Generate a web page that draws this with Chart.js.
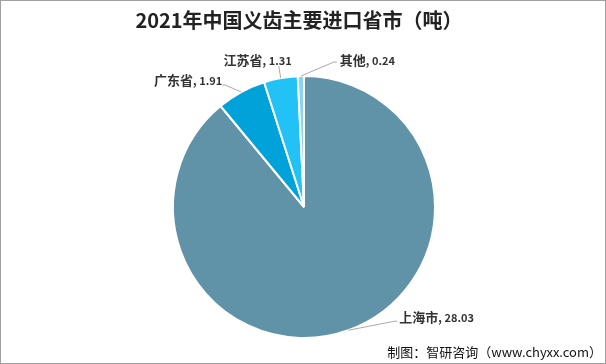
<!DOCTYPE html>
<html><head><meta charset="utf-8">
<script src="https://cdn.jsdelivr.net/npm/chart.js@4/dist/chart.umd.min.js"></script>
<style>html,body{margin:0;padding:0;background:#fff;}#wrap{width:606px;height:364px;position:relative;}</style>
</head><body><div id="wrap"><canvas id="c" width="606" height="364"></canvas></div>
<script>
const categories = ['上海市', '广东省', '江苏省', '其他'];
const values = [28.03, 1.91, 1.31, 0.24];
const titleText = '2021年中国义齿主要进口省市（吨）';
const sourceText = '制图：智研咨询（www.chyxx.com）';
const colors = ['#6093A8', '#00A2DA', '#22C2F6', '#8AD4F2'];
// label layout: line end offset from slice edge, text offset from line end, align
const labelStyle = [
  {dx: 46, dy: -9, tx: 5, ty: -4, align: 'left'},
  {dx: -16, dy: -7, tx: -3, ty: -5, align: 'right'},
  {dx: -2, dy: -12, tx: 13, ty: -6, align: 'right'},
  {dx: 33, dy: -14, tx: 6, ty: -2, align: 'left'}
];
const CJK = '"Noto Sans CJK SC", "Noto Sans", sans-serif';

const decor = {
  id: 'decor',
  beforeDraw(chart) {
    const ctx = chart.ctx;
    ctx.save();
    ctx.fillStyle = '#fff';
    ctx.fillRect(0, 0, chart.width, chart.height);
    ctx.restore();
  },
  afterDraw(chart) {
    const ctx = chart.ctx;
    ctx.save();
    // title
    ctx.fillStyle = '#222';
    ctx.font = 'bold 20px ' + CJK;
    ctx.textAlign = 'center';
    ctx.textBaseline = 'middle';
    ctx.fillText(titleText, 299, 20);
    // source
    ctx.font = '13px ' + CJK;
    ctx.fillStyle = '#111';
    ctx.textAlign = 'right';
    ctx.fillText(sourceText, 602, 352);
    // labels
    const meta = chart.getDatasetMeta(0);
    meta.data.forEach((arc, i) => {
      const p = arc.getProps(['x', 'y', 'startAngle', 'endAngle', 'outerRadius'], true);
      const mid = (p.startAngle + p.endAngle) / 2;
      const ex = p.x + Math.cos(mid) * p.outerRadius;
      const ey = p.y + Math.sin(mid) * p.outerRadius;
      const s = labelStyle[i];
      const lx = ex + s.dx, ly = ey + s.dy;
      ctx.strokeStyle = '#aaaaaa';
      ctx.lineWidth = 1;
      ctx.beginPath();
      ctx.moveTo(ex, ey);
      ctx.lineTo(lx, ly);
      ctx.lineTo(lx + (s.align === 'left' ? 3 : -3) * (i === 2 ? 0 : 1), ly);
      ctx.stroke();
      const name = categories[i];
      const val = ', ' + values[i].toFixed(2);
      ctx.font = 'bold 13px ' + CJK;
      const w1 = ctx.measureText(name).width;
      ctx.font = 'bold 11px ' + CJK;
      const w2 = ctx.measureText(val).width;
      let tx = lx + s.tx;
      const ty = ly + s.ty;
      let start = s.align === 'left' ? tx : tx - w1 - w2;
      ctx.textAlign = 'left';
      ctx.textBaseline = 'middle';
      ctx.fillStyle = '#333';
      ctx.font = 'bold 13px ' + CJK;
      ctx.fillText(name, start, ty);
      ctx.font = 'bold 11px ' + CJK;
      ctx.fillText(val, start + w1, ty + 1);
    });
    // border
    ctx.strokeStyle = '#a0a0a0';
    ctx.lineWidth = 1;
    ctx.strokeRect(0.5, 0.5, chart.width - 1, chart.height - 1);
    ctx.restore();
  }
};

new Chart(document.getElementById('c'), {
  type: 'pie',
  data: {
    labels: categories,
    datasets: [{
      data: values,
      backgroundColor: colors,
      borderColor: '#ffffff',
      borderWidth: 2
    }]
  },
  options: {
    responsive: false,
    animation: false,
    layout: {padding: {top: 75, bottom: 25, left: 2, right: 0}},
    plugins: {legend: {display: false}, tooltip: {enabled: false}, title: {display: false}}
  },
  plugins: [decor]
});
</script></body></html>
